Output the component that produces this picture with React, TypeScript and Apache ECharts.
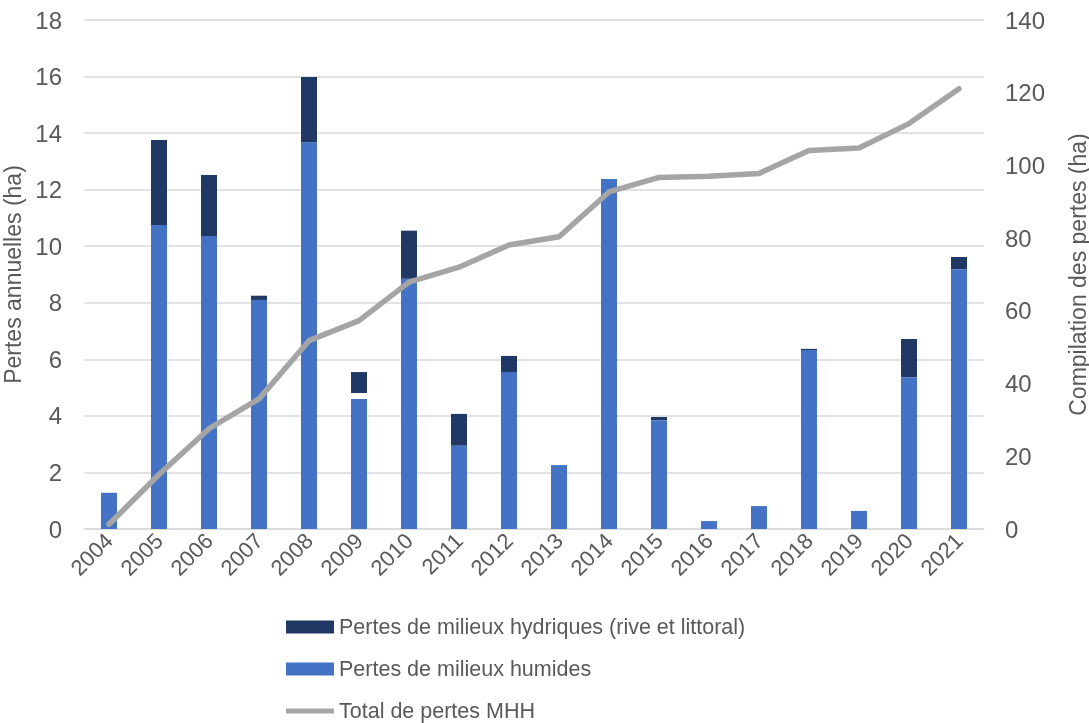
import React, { useEffect, useRef } from "react";
import * as echarts from "echarts";

const years = ["2004", "2005", "2006", "2007", "2008", "2009", "2010", "2011", "2012", "2013", "2014", "2015", "2016", "2017", "2018", "2019", "2020", "2021"];
const humides = [1.28, 10.75, 10.36, 8.1, 13.68, 4.6, 8.85, 2.95, 5.55, 2.26, 12.38, 3.85, 0.28, 0.81, 6.33, 0.64, 5.37, 9.19];
const nonPrecise = [0, 0, 0, 0, 0, 0.21, 0, 0, 0, 0, 0, 0, 0, 0, 0, 0, 0, 0];
const hydriques = [0, 3.01, 2.16, 0.15, 2.3, 0.74, 1.7, 1.12, 0.57, 0, 0, 0.11, 0, 0, 0.04, 0, 1.35, 0.43];
const totalCumul = [1.3, 15.0, 27.6, 35.8, 51.8, 57.3, 67.9, 72.0, 78.1, 80.4, 92.7, 96.7, 97.0, 97.8, 104.1, 104.8, 111.5, 121.1];

const NAME_HYD = "Pertes de milieux hydriques (rive et littoral)";
const NAME_HUM = "Pertes de milieux humides";
const NAME_TOT = "Total de pertes MHH";

const FONT = "'Liberation Sans', Arial, sans-serif";
const TEXT = "#595959";
const GRID = "#D9D9D9";

export default function App() {
  const ref = useRef<HTMLDivElement>(null);
  useEffect(() => {
    if (!ref.current) return;
    const chart = echarts.init(ref.current, null, { renderer: "svg" });
    chart.setOption({
      animation: false,
      textStyle: { fontFamily: FONT },
      grid: { left: 84, right: 105, top: 20, bottom: 194, containLabel: false, outerBoundsMode: "none" },
      legend: {
        orient: "vertical",
        left: 286,
        top: 616,
        height: 200,
        padding: 0,
        itemWidth: 48,
        itemHeight: 13,
        itemGap: 20,
        icon: "rect",
        textStyle: { fontFamily: FONT, fontSize: 21.5, color: TEXT, lineHeight: 22, padding: [0, 0, 0, 0] },
        data: [
          { name: NAME_HYD, icon: "rect" },
          { name: NAME_HUM, icon: "rect" },
          { name: NAME_TOT, icon: "path://M0,0 L48,0 L48,5 L0,5 Z", itemStyle: { color: "#A5A5A5" } },
        ],
      },
      xAxis: {
        type: "category",
        data: years,
        axisLine: { show: true, lineStyle: { color: GRID, width: 1.5 } },
        axisTick: { show: false },
        axisLabel: { rotate: 45, margin: 8, fontSize: 22, color: TEXT, fontFamily: FONT },
      },
      yAxis: [
        {
          type: "value",
          min: 0,
          max: 18,
          interval: 2,
          name: "Pertes annuelles (ha)",
          nameLocation: "middle",
          nameRotate: 90,
          nameGap: 50,
          nameTextStyle: { fontSize: 23, color: TEXT, fontFamily: FONT },
          axisLine: { show: false },
          axisTick: { show: false },
          axisLabel: { fontSize: 24, color: TEXT, margin: 22, fontFamily: FONT },
          splitLine: { show: true, lineStyle: { color: GRID, width: 1.5 } },
        },
        {
          type: "value",
          min: 0,
          max: 140,
          interval: 20,
          position: "right",
          name: "Compilation des pertes (ha)",
          nameLocation: "middle",
          nameRotate: 90,
          nameGap: 82,
          nameTextStyle: { fontSize: 23, color: TEXT, fontFamily: FONT },
          axisLine: { show: false },
          axisTick: { show: false },
          axisLabel: { fontSize: 24, color: TEXT, margin: 21, fontFamily: FONT },
          splitLine: { show: false },
        },
      ],
      series: [
        {
          name: NAME_HUM,
          type: "bar",
          stack: "pertes",
          barWidth: 16,
          data: humides,
          itemStyle: { color: "#4472C4" },
        },
        {
          name: "Non précisé",
          type: "bar",
          stack: "pertes",
          barWidth: 16,
          data: nonPrecise,
          itemStyle: { color: "rgba(0,0,0,0)" },
          emphasis: { disabled: true },
        },
        {
          name: NAME_HYD,
          type: "bar",
          stack: "pertes",
          barWidth: 16,
          data: hydriques,
          itemStyle: { color: "#1F3864" },
        },
        {
          name: NAME_TOT,
          type: "line",
          yAxisIndex: 1,
          data: totalCumul,
          symbol: "none",
          showSymbol: false,
          lineStyle: { color: "#A5A5A5", width: 5.5, cap: "round", join: "round" },
          itemStyle: { color: "#A5A5A5" },
          z: 5,
        },
      ],
    });
    return () => chart.dispose();
  }, []);
  return <div ref={ref} style={{ position: "fixed", left: 0, top: 0, width: 1089, height: 723 }} />;
}
